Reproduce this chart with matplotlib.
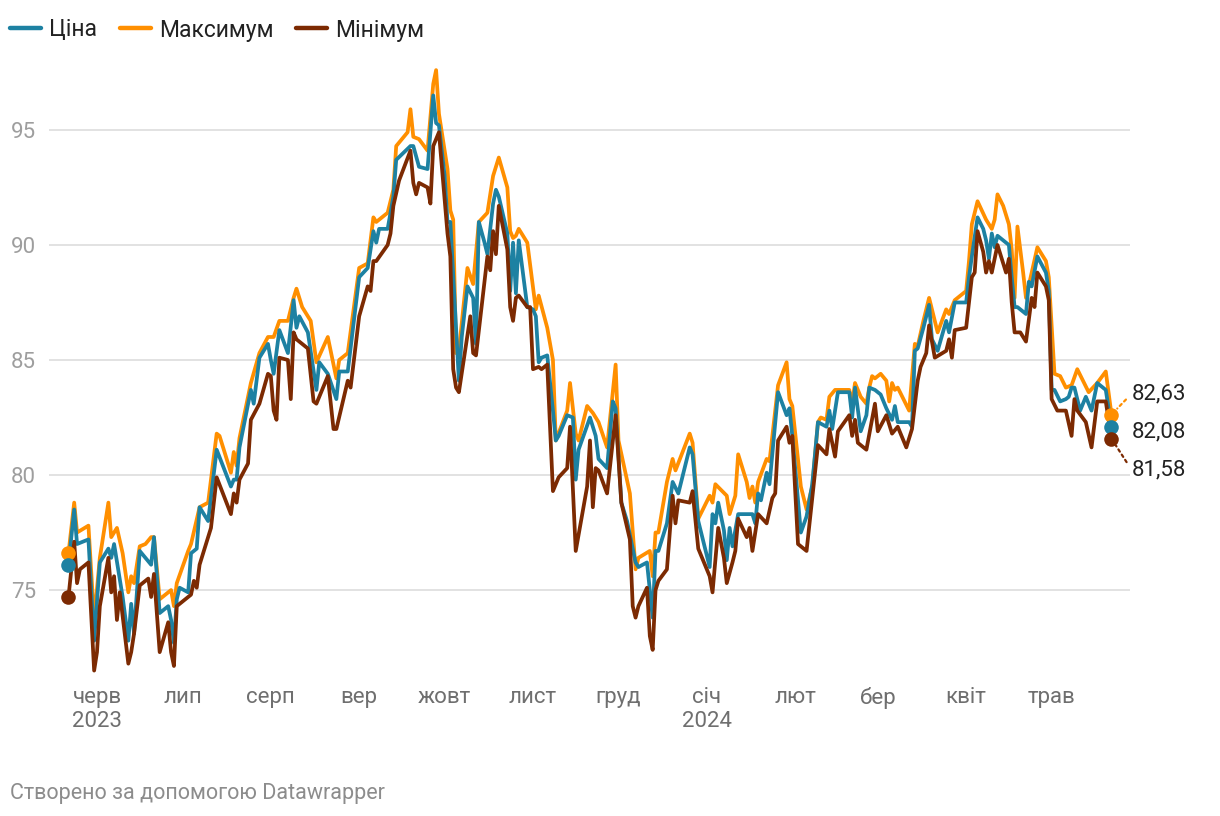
import pandas as pd
import matplotlib
matplotlib.use("Agg")
import matplotlib.pyplot as plt
from matplotlib.lines import Line2D

# Data: day offsets from the first date
start = pd.Timestamp("2023-05-22")

price_days = [0, 2, 3, 7, 9, 11, 14, 15, 16, 19, 21, 22, 23, 25, 29, 30, 32, 35, 36, 37, 38, 39, 42, 43, 45, 46, 49, 52,
              57, 58, 59, 60, 64, 65, 67, 70, 71, 72, 74, 77, 79, 80, 81, 84, 87, 88, 91, 94, 95, 98, 102, 105, 107, 108,
              109, 112, 114, 115, 120, 121, 123, 126, 128, 129, 130, 132, 133, 134, 136, 137, 138, 140, 142, 143, 144,
              146, 147, 149, 150, 151, 154, 155, 156, 157, 158, 161, 163, 164, 165, 166, 168, 170, 171, 172, 175, 177,
              178, 179, 183, 185, 186, 189, 191, 192, 194, 196, 199, 200, 203, 205, 206, 207, 210, 212, 214, 218, 219,
              221, 223, 225, 226, 227, 228, 230, 231, 232, 233, 235, 238, 240, 241, 242, 243, 245, 246, 249, 252, 253,
              254, 257, 259, 261, 263, 266, 267, 268, 270, 274, 275, 276, 278, 280, 281, 283, 285, 287, 289, 290, 291,
              295, 296, 297, 298, 300, 302, 303, 305, 308, 309, 311, 315, 316, 317, 319, 321, 322, 323, 324, 325, 326,
              330, 331, 332, 333, 336, 337, 338, 340, 343, 344, 345, 346, 348, 350, 351, 352, 353, 355, 357, 359, 361,
              364, 366]
price = [76.1, 78.5, 77.0, 77.2, 72.8, 76.2, 76.8, 76.4, 77.0, 74.7, 72.8, 74.4, 73.1, 76.7, 76.1, 77.3, 74.0, 74.3, 73.7,
         72.7, 74.6, 75.1, 74.9, 76.6, 76.8, 78.6, 78.0, 81.1, 79.5, 79.8, 79.8, 81.2, 83.7, 83.1, 85.1, 85.7, 85.0, 84.4,
         86.3, 85.3, 87.6, 86.4, 86.9, 86.2, 83.7, 84.9, 84.4, 83.3, 84.5, 84.5, 88.6, 89.0, 90.6, 90.1, 90.7, 90.7, 92.1,
         93.7, 94.3, 94.3, 93.4, 93.3, 96.5, 95.3, 95.2, 93.0, 91.0, 91.0, 86.4, 84.1, 86.0, 88.2, 87.7, 85.7, 91.0, 90.1,
         89.6, 91.8, 92.4, 92.1, 90.5, 88.0, 90.1, 87.9, 90.2, 87.3, 87.2, 86.9, 84.9, 85.1, 85.2, 82.8, 81.5, 81.7, 82.6,
         82.5, 79.8, 81.1, 82.5, 81.7, 80.7, 80.3, 83.2, 82.9, 78.8, 78.0, 76.2, 76.0, 76.2, 73.8, 76.7, 76.7, 77.9, 79.7,
         79.2, 81.2, 80.9, 78.0, 77.0, 76.0, 78.3, 77.9, 78.8, 77.6, 76.3, 77.7, 76.9, 78.3, 78.3, 78.3, 77.9, 79.2, 78.9,
         80.1, 79.6, 83.6, 82.6, 82.9, 81.7, 77.5, 78.2, 79.6, 82.3, 82.1, 82.8, 82.0, 83.6, 83.6, 82.5, 83.8, 81.9, 82.6,
         83.8, 83.7, 83.5, 82.9, 82.4, 83.0, 82.3, 82.3, 82.1, 85.4, 85.5, 86.4, 87.4, 85.9, 85.4, 86.7, 86.2, 87.5, 87.5,
         88.6, 89.5, 91.2, 90.7, 90.2, 89.4, 90.5, 89.9, 90.4, 90.0, 88.6, 87.3, 87.3, 87.0, 88.4, 88.2, 89.5, 88.8, 88.0,
         83.7, 83.7, 83.2, 83.3, 83.4, 83.8, 83.8, 82.8, 83.4, 82.8, 84.0, 83.7, 82.08]

high_days = [0, 2, 3, 7, 9, 11, 14, 15, 17, 19, 21, 22, 23, 25, 27, 29, 30, 32, 36, 37, 38, 42, 43, 46, 49, 52, 53, 57, 58,
             59, 60, 64, 67, 70, 72, 74, 77, 79, 80, 82, 85, 87, 91, 94, 95, 98, 102, 105, 107, 108, 112, 114, 115, 117,
             119, 120, 121, 123, 126, 128, 129, 130, 133, 134, 135, 136, 137, 140, 142, 144, 147, 149, 151, 154, 155, 156,
             157, 158, 161, 164, 165, 168, 170, 171, 175, 176, 178, 179, 182, 184, 186, 189, 192, 193, 197, 199, 200,
             204, 205, 206, 207, 210, 212, 213, 218, 219, 221, 225, 226, 227, 231, 232, 234, 235, 238, 239, 240, 241,
             242, 245, 246, 249, 252, 253, 254, 257, 259, 261, 263, 264, 266, 267, 269, 270, 274, 275, 276, 278, 280,
             281, 282, 283, 285, 287, 288, 289, 290, 291, 295, 297, 298, 300, 302, 305, 308, 309, 311, 315, 316, 317,
             319, 322, 324, 325, 326, 328, 330, 331, 332, 333, 335, 336, 338, 340, 343, 344, 346, 348, 350, 352, 354,
             358, 361, 364, 366]
high = [76.6, 78.8, 77.5, 77.8, 73.7, 76.4, 78.8, 77.3, 77.7, 76.6, 74.9, 75.6, 75.3, 76.9, 77.0, 77.3, 77.3, 74.6, 75.0,
        74.3, 75.3, 76.7, 77.0, 78.6, 78.8, 81.8, 81.7, 80.1, 81.0, 80.4, 81.6, 84.0, 85.3, 86.0, 86.0, 86.7, 86.7, 87.7,
        88.1, 87.3, 86.7, 84.9, 86.0, 84.2, 85.0, 85.3, 89.0, 89.2, 91.2, 91.0, 91.4, 92.4, 94.3, 94.6, 94.9, 95.9, 94.7,
        94.6, 94.1, 97.0, 97.6, 95.7, 93.3, 91.5, 91.1, 85.3, 85.4, 89.0, 88.3, 91.0, 91.4, 93.0, 93.8, 92.5, 90.6, 90.3,
        90.4, 90.7, 90.1, 87.2, 87.8, 86.4, 85.0, 81.5, 82.8, 84.0, 81.8, 81.5, 83.0, 82.7, 82.3, 81.2, 84.8, 81.5, 79.2,
        75.9, 76.4, 76.7, 75.6, 77.5, 77.5, 79.7, 80.7, 80.2, 81.8, 81.4, 78.1, 79.1, 78.8, 79.6, 79.1, 78.3, 79.1, 80.9,
        79.7, 79.0, 79.5, 78.8, 79.7, 80.7, 80.6, 83.9, 84.9, 83.3, 83.0, 79.5, 78.5, 79.5, 82.3, 82.5, 82.4, 83.4, 83.7,
        83.7, 83.7, 83.1, 84.0, 83.4, 83.1, 83.8, 84.3, 84.2, 84.4, 84.1, 83.2, 84.0, 83.7, 83.8, 82.8, 85.7, 85.6, 86.7,
        87.7, 86.2, 87.2, 87.0, 87.6, 88.0, 89.3, 90.9, 91.9, 91.1, 90.7, 91.1, 92.2, 91.7, 90.9, 89.8, 87.7, 90.8, 88.8,
        87.7, 88.8, 89.9, 89.3, 88.6, 84.4, 84.3, 83.8, 83.9, 84.6, 83.6, 84.0, 84.5, 82.63]

low_days = [0, 2, 3, 4, 7, 9, 10, 11, 14, 15, 16, 17, 18, 21, 22, 23, 25, 28, 29, 30, 32, 35, 36, 37, 38, 43, 44, 45, 46,
            50, 52, 57, 58, 59, 60, 63, 64, 67, 70, 71, 72, 73, 74, 77, 78, 79, 80, 84, 86, 87, 91, 93, 94, 98, 99, 102,
            105, 106, 107, 108, 112, 113, 114, 116, 120, 121, 122, 123, 126, 127, 128, 130, 133, 134, 135, 136, 137,
            141, 142, 143, 147, 148, 149, 150, 151, 154, 155, 156, 157, 158, 161, 162, 163, 165, 166, 168, 170, 172,
            175, 176, 178, 182, 183, 184, 185, 186, 189, 192, 194, 197, 198, 199, 200, 203, 204, 205, 206, 207, 210,
            212, 213, 214, 218, 219, 221, 223, 225, 226, 228, 230, 231, 233, 234, 235, 238, 239, 240, 242, 245, 247,
            248, 249, 252, 253, 254, 256, 259, 261, 263, 266, 267, 269, 270, 274, 275, 276, 277, 280, 283, 284, 287,
            289, 291, 294, 296, 298, 299, 301, 302, 304, 308, 309, 310, 311, 315, 317, 318, 319, 321, 322, 323, 324,
            326, 329, 330, 331, 332, 334, 336, 338, 339, 340, 343, 344, 345, 347, 350, 352, 353, 354, 357, 359, 361,
            364, 366]
low = [74.7, 77.1, 75.3, 75.9, 76.2, 71.5, 72.3, 74.3, 76.4, 74.9, 75.6, 73.7, 74.9, 71.8, 72.3, 73.1, 75.2, 75.5, 74.7,
       75.7, 72.3, 73.6, 72.3, 71.7, 74.3, 74.8, 75.4, 75.1, 76.1, 77.7, 79.9, 78.3, 79.2, 78.8, 79.8, 80.5, 82.4, 83.1,
       84.4, 84.3, 82.8, 82.4, 85.1, 85.0, 83.3, 86.2, 85.9, 85.5, 83.2, 83.1, 84.3, 82.0, 82.0, 84.1, 83.8, 86.9, 88.2,
       88.0, 89.3, 89.3, 90.0, 90.5, 91.7, 92.8, 94.1, 92.7, 92.2, 92.7, 92.5, 91.8, 94.3, 94.9, 90.5, 89.5, 84.6, 83.8,
       83.6, 86.9, 85.3, 85.2, 89.5, 88.9, 90.6, 89.6, 91.7, 89.8, 87.3, 86.7, 87.7, 87.8, 87.3, 87.3, 84.6, 84.7, 84.6,
       84.8, 79.3, 79.9, 80.3, 82.1, 76.7, 79.5, 81.5, 78.6, 80.3, 80.2, 79.2, 82.6, 78.8, 77.2, 74.3, 73.8, 74.3, 75.1,
       73.0, 72.4, 75.0, 75.4, 75.9, 79.1, 77.9, 78.9, 78.8, 79.3, 76.8, 76.2, 75.6, 74.9, 77.7, 76.4, 75.3, 76.2, 76.7,
       78.1, 77.3, 77.7, 76.7, 78.3, 77.9, 79.0, 79.2, 81.5, 82.1, 81.4, 81.7, 77.0, 76.7, 79.0, 81.3, 80.9, 82.0, 80.8,
       81.9, 82.6, 81.7, 82.4, 81.4, 81.1, 83.1, 81.9, 82.6, 81.8, 82.1, 81.2, 82.0, 84.1, 84.7, 85.3, 86.5, 85.1, 85.4,
       85.9, 85.1, 86.3, 86.4, 88.6, 88.8, 90.6, 89.7, 88.8, 89.3, 88.8, 90.0, 88.8, 89.4, 87.5, 86.2, 86.2, 85.8, 87.7,
       87.3, 88.8, 88.2, 87.6, 83.3, 82.8, 82.8, 81.7, 83.3, 82.8, 82.3, 81.2, 83.2, 83.2, 81.58]

month_labels = ["черв", "лип", "серп", "вер", "жовт", "лист", "груд", "січ", "лют", "бер", "квіт", "трав"]
y_ticks = [75, 80, 85, 90, 95]

c_price = "#1d81a2"
c_high = "#ff8f00"
c_low = "#7c2a02"


def to_dates(days):
    return start + pd.to_timedelta(days, unit="D")


plt.rcParams['font.family'] = ['Roboto', 'DejaVu Sans']

fig = plt.figure(figsize=(12.2, 8.16), dpi=100)
ax = fig.add_axes([49 / 1220, 1 - 680 / 816, (1130 - 49) / 1220, 620 / 816])

series = [
    ("Максимум", high_days, high, c_high, 2),
    ("Ціна", price_days, price, c_price, 3),
    ("Мінімум", low_days, low, c_low, 4),
]
for name, d, v, col, z in series:
    x = to_dates(d)
    ax.plot(x, v, color=col, lw=2.7, zorder=z, solid_joinstyle="round", solid_capstyle="round")
    ax.plot([x[0], x[-1]], [v[0], v[-1]], "o", ms=10.5, color=col, zorder=z + 3, mec="none")

# end labels with leaders
end_x = to_dates([price_days[-1]])[0]
ax.annotate(f"{high[-1]:.2f}".replace(".", ","), xy=(end_x, high[-1]), xytext=(14.5, 15),
            textcoords="offset points", ha="left", va="center", fontsize=16, color="#222222",
            arrowprops=dict(arrowstyle="-", color=c_high, lw=1.6, linestyle=(0, (1.2, 1.6)),
                            relpos=(0, 0.5), shrinkA=3, shrinkB=6))
ax.annotate(f"{price[-1]:.2f}".replace(".", ","), xy=(end_x, price[-1]), xytext=(14.5, -3.5),
            textcoords="offset points", ha="left", va="center", fontsize=16, color="#222222")
ax.annotate(f"{low[-1]:.2f}".replace(".", ","), xy=(end_x, low[-1]), xytext=(14.5, -22.5),
            textcoords="offset points", ha="left", va="center", fontsize=16, color="#222222",
            arrowprops=dict(arrowstyle="-", color=c_low, lw=1.6, linestyle=(0, (1.2, 1.6)),
                            relpos=(0, 0.5), shrinkA=3, shrinkB=6))

ax.set_ylim(71.09, 98.04)
ax.set_xlim(start + pd.Timedelta(days=-6.84), start + pd.Timedelta(days=372.5))

ax.set_yticks(y_ticks)
ax.set_yticklabels([str(t) for t in y_ticks])
ax.yaxis.grid(True, color="#e2e2e2", lw=1.4)
ax.set_axisbelow(True)

month_starts = pd.date_range("2023-06-01", "2024-05-01", freq="MS")
labels = list(month_labels)
labels[0] += "\n2023"
labels[7] += "\n2024"
ax.set_xticks(month_starts)
ax.set_xticklabels(labels)

ax.tick_params(axis="y", length=0, pad=9.5, labelsize=16, labelcolor="#9e9e9e")
ax.tick_params(axis="x", length=0, pad=5, labelsize=16, labelcolor="#6f6f6f")
for s in ax.spines.values():
    s.set_visible(False)

handles = [Line2D([], [], color=c, lw=3.2, solid_capstyle="round") for c in (c_price, c_high, c_low)]
fig.legend(handles, ["Ціна", "Максимум", "Мінімум"], loc="center left",
           bbox_to_anchor=(10 / 1220, 1 - 30 / 816), ncol=3, frameon=False, fontsize=16.5,
           handlelength=1.35, handletextpad=0.35, columnspacing=1.0, borderpad=0, borderaxespad=0,
           labelcolor="#222222")

fig.text(10 / 1220, 1 - 793 / 816, "Створено за допомогою Datawrapper", fontsize=15.5,
         color="#8c8c8c", va="center", ha="left")

fig.savefig("out.png", dpi=100)
